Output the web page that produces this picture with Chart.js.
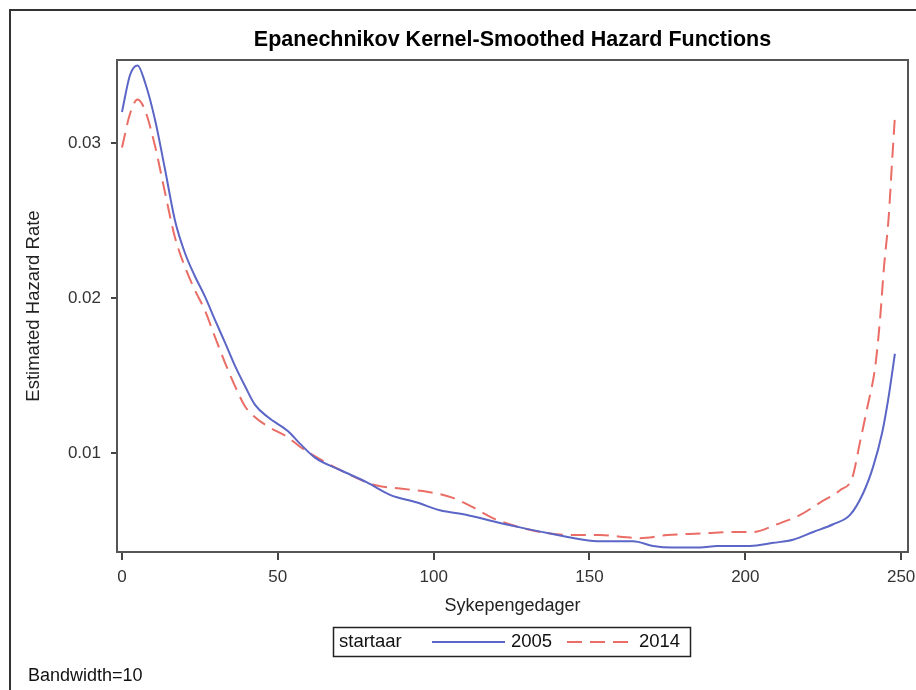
<!DOCTYPE html>
<html>
<head>
<meta charset="utf-8">
<title>Epanechnikov Kernel-Smoothed Hazard Functions</title>
<script src="https://cdn.jsdelivr.net/npm/chart.js@4.4.1/dist/chart.umd.min.js"></script>
<style>
  body { margin: 0; background: #fff; }
  #wrap { width: 916px; height: 690px; }
</style>
</head>
<body>
<div id="wrap"><canvas id="hazardChart" width="916" height="690"></canvas></div>
<script>
const days2005 = [0, 2.6, 5, 7.4, 10.6, 13.8, 17, 20.2, 23.4, 26.6, 29.8, 33.1, 36.3, 39.5, 42.7, 46.9, 53.3, 57.1, 61.9, 70, 78.6, 86, 94.7, 102, 110.7, 119, 127.7, 137.4, 148, 153.4, 159.8, 164, 170.4, 176.8, 185.5, 191, 201.5, 209, 215.3, 221.8, 228.2, 233.6, 237.8, 241, 243.9, 245.8, 248];
const hazard2005 = [0.0320, 0.0344, 0.0350, 0.0339, 0.0315, 0.0283, 0.0250, 0.0229, 0.0214, 0.0201, 0.0186, 0.0171, 0.0156, 0.0143, 0.0131, 0.0123, 0.0114, 0.0106, 0.0097, 0.0089, 0.0081, 0.0073, 0.0068, 0.0063, 0.0060, 0.0056, 0.0052, 0.0048, 0.0044, 0.0043, 0.0043, 0.0043, 0.0040, 0.0039, 0.0039, 0.0040, 0.0040, 0.0042, 0.0044, 0.0049, 0.0054, 0.0060, 0.0074, 0.0091, 0.0113, 0.0134, 0.0164];

const days2014 = [0, 2.6, 5, 7.4, 10.6, 13.8, 17, 20.2, 23.4, 26.6, 29.8, 33.1, 36.3, 39.5, 42.7, 46.9, 53.3, 57.1, 63.5, 70, 78.6, 81.8, 89.2, 97.9, 106.2, 112.6, 119, 127.7, 137.4, 146, 153.4, 159.8, 166.2, 174.9, 185.5, 196, 202.5, 210.2, 217.6, 224, 230.4, 234.3, 236.8, 239, 241.7, 243.3, 244.5, 246, 247, 248];
const hazard2014 = [0.0297, 0.0319, 0.0328, 0.0321, 0.0298, 0.0268, 0.0239, 0.0220, 0.0205, 0.0192, 0.0175, 0.0158, 0.0143, 0.0130, 0.0123, 0.0117, 0.0110, 0.0104, 0.0096, 0.0089, 0.0081, 0.0079, 0.0077, 0.0075, 0.0071, 0.0065, 0.0058, 0.0052, 0.0048, 0.0047, 0.0047, 0.0046, 0.0045, 0.0047, 0.0048, 0.0049, 0.0049, 0.0054, 0.0060, 0.0068, 0.0076, 0.0084, 0.0107, 0.0128, 0.0156, 0.0188, 0.0220, 0.0252, 0.0285, 0.0317];

const seriesLabels = ['2005', '2014'];
const xTicks = [0, 50, 100, 150, 200, 250];
const yTicks = [0.01, 0.02, 0.03];

const FONT = 'Arial, "Liberation Sans", sans-serif';
const BLUE = '#5b66c6';
const RED = '#ea6d66';

const toPoints = (xs, ys) => xs.map((x, i) => ({ x: x, y: ys[i] }));

// title, frames, SAS style legend box and footnote
const decorations = {
  id: 'decorations',
  afterDraw(chart) {
    const ctx = chart.ctx;
    const area = chart.chartArea;
    ctx.save();

    // outer border (top and left edges visible)
    ctx.strokeStyle = '#333';
    ctx.lineWidth = 2;
    ctx.beginPath();
    ctx.moveTo(10, 690);
    ctx.lineTo(10, 10);
    ctx.lineTo(916, 10);
    ctx.stroke();

    // plot frame
    ctx.strokeStyle = '#555';
    ctx.lineWidth = 2;
    ctx.strokeRect(area.left, area.top, area.right - area.left, area.bottom - area.top);

    // title
    ctx.fillStyle = '#000';
    ctx.font = 'bold 21.5px ' + FONT;
    ctx.textAlign = 'center';
    ctx.textBaseline = 'middle';
    ctx.fillText('Epanechnikov Kernel-Smoothed Hazard Functions', (area.left + area.right) / 2, 40);

    // legend
    const ds = chart.data.datasets;
    ctx.strokeStyle = '#222';
    ctx.lineWidth = 1.5;
    ctx.strokeRect(333.5, 627.5, 357, 29);
    ctx.font = '18.5px ' + FONT;
    ctx.fillStyle = '#111';
    ctx.textAlign = 'left';
    const ly = 642;
    ctx.fillText('startaar', 339, ly);

    ctx.lineWidth = 2;
    ctx.strokeStyle = ds[0].borderColor;
    ctx.beginPath();
    ctx.moveTo(432, ly);
    ctx.lineTo(505, ly);
    ctx.stroke();
    ctx.fillText(ds[0].label, 511, ly);

    ctx.strokeStyle = ds[1].borderColor;
    ctx.setLineDash(ds[1].borderDash);
    ctx.beginPath();
    ctx.moveTo(567, ly);
    ctx.lineTo(631, ly);
    ctx.stroke();
    ctx.setLineDash([]);
    ctx.fillText(ds[1].label, 639, ly);

    // footnote
    ctx.font = '18px ' + FONT;
    ctx.fillText('Bandwidth=10', 28, 676);
    ctx.restore();
  }
};

const ctx = document.getElementById('hazardChart').getContext('2d');
new Chart(ctx, {
  type: 'line',
  data: {
    datasets: [
      {
        label: seriesLabels[0],
        data: toPoints(days2005, hazard2005),
        borderColor: BLUE,
        borderWidth: 2,
        pointRadius: 0,
        cubicInterpolationMode: 'monotone',
        fill: false,
      },
      {
        label: seriesLabels[1],
        data: toPoints(days2014, hazard2014),
        borderColor: RED,
        borderWidth: 2,
        borderDash: [15, 8],
        pointRadius: 0,
        cubicInterpolationMode: 'monotone',
        fill: false,
      },
    ],
  },
  options: {
    responsive: false,
    animation: false,
    layout: { padding: { left: 0, right: 8, top: 60, bottom: 0 } },
    plugins: {
      legend: { display: false },
      tooltip: { enabled: false },
    },
    scales: {
      x: {
        type: 'linear',
        min: -1.6,
        max: 252.2,
        afterFit: (scale) => {
          scale.height = 138;
          scale.paddingLeft = 0;
          scale.paddingRight = 0;
        },
        afterBuildTicks: (scale) => {
          scale.ticks = xTicks.map(v => ({ value: v }));
        },
        border: { display: false },
        grid: { drawOnChartArea: false, drawTicks: true, tickLength: 8, color: '#444', lineWidth: 2 },
        ticks: {
          color: '#333',
          font: { family: FONT, size: 17 },
          padding: 7,
          maxRotation: 0,
        },
        title: {
          display: true,
          text: 'Sykepengedager',
          color: '#222',
          font: { family: FONT, size: 18 },
          padding: { top: 0, bottom: 73 },
        },
      },
      y: {
        min: 0.00361,
        max: 0.03535,
        afterFit: (scale) => {
          scale.width = 117;
          scale.paddingTop = 0;
          scale.paddingBottom = 0;
        },
        afterBuildTicks: (scale) => {
          scale.ticks = yTicks.map(v => ({ value: v }));
        },
        border: { display: false },
        grid: { drawOnChartArea: false, drawTicks: true, tickLength: 6, color: '#444', lineWidth: 2 },
        ticks: {
          color: '#333',
          font: { family: FONT, size: 17 },
          padding: 10,
          callback: (v) => v.toFixed(2),
        },
        title: {
          display: true,
          text: 'Estimated Hazard Rate',
          color: '#222',
          font: { family: FONT, size: 18.5 },
          padding: { top: 23, bottom: 0 },
        },
      },
    },
  },
  plugins: [decorations],
});
</script>
</body>
</html>
